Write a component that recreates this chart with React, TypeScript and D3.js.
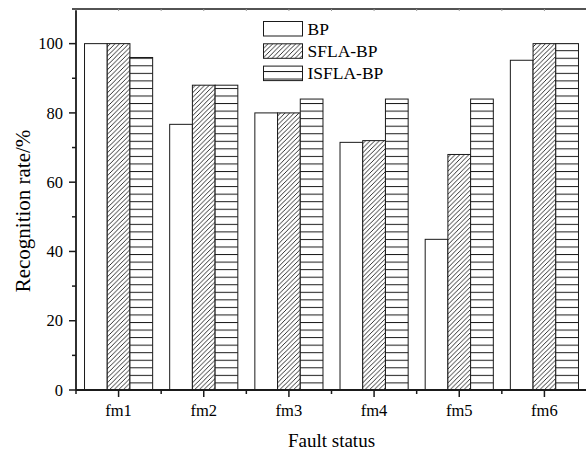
import React from "react";
import * as d3 from "d3";

const categories = ["fm1", "fm2", "fm3", "fm4", "fm5", "fm6"];
const seriesNames = ["BP", "SFLA-BP", "ISFLA-BP"];
const bpValues = [100, 76.7, 80, 71.5, 43.5, 95.2];
const sflaValues = [100, 88, 80, 72, 68, 100];
const isflaValues = [96, 88, 84, 84, 84, 100];
const yMajorTicks = [0, 20, 40, 60, 80, 100];
const yMinorTicks = [10, 30, 50, 70, 90];

const WIDTH = 586;
const HEIGHT = 450;
const left = 76;
const right = 587;
const top = 9;
const bottom = 390;
const FONT = "'Liberation Serif', 'Times New Roman', serif";
const INK = "#1a1a1a";

const fills = ["#ffffff", "url(#hatchDiag)", "url(#hatchHoriz)"];

export default function App() {
  const x = d3.scaleBand<string>().domain(categories).range([left, right]).paddingInner(0).paddingOuter(0);
  const inner = d3
    .scaleBand<string>()
    .domain(seriesNames)
    .range([x.bandwidth() * 0.1, x.bandwidth() * 0.9]);
  const y = d3.scaleLinear().domain([0, 110]).range([bottom, top]);

  const series = [bpValues, sflaValues, isflaValues];
  const bandEdges = d3.range(categories.length + 1).map((i) => left + i * x.step());

  const legendX = 263.5;
  const legendY = 21.5;
  const legendStep = 22.3;
  const boxW = 39;
  const boxH = 14.5;

  return (
    <svg width={WIDTH} height={HEIGHT} style={{ display: "block", position: "absolute", left: 0, top: 0 }}>
      <defs>
        <pattern id="hatchDiag" patternUnits="userSpaceOnUse" width={4.6} height={4.6}>
          <rect width={4.6} height={4.6} fill="#fff" />
          <path d="M-1,1 L1,-1 M0,4.6 L4.6,0 M3.6,5.6 L5.6,3.6" stroke={INK} strokeWidth={0.9} />
        </pattern>
        <pattern id="hatchHoriz" patternUnits="userSpaceOnUse" width={10} height={7.55} y={4.9}>
          <rect width={10} height={7.55} fill="#fff" />
          <line x1={0} x2={10} y1={0.5} y2={0.5} stroke={INK} strokeWidth={1} />
        </pattern>
      </defs>

      <rect width={WIDTH} height={HEIGHT} fill="#fff" />

      {/* bars */}
      {categories.map((c, ci) => (
        <g key={c} transform={`translate(${x(c)},0)`}>
          {series.map((vals, si) => (
            <rect
              key={si}
              x={inner(seriesNames[si])}
              y={y(vals[ci])}
              width={inner.bandwidth()}
              height={bottom - y(vals[ci])}
              fill={fills[si]}
              stroke={INK}
              strokeWidth={1}
            />
          ))}
        </g>
      ))}

      {/* frame */}
      <line x1={left - 4} x2={right} y1={top} y2={top} stroke={INK} strokeWidth={1.3} />
      <line x1={right} x2={right} y1={top} y2={bottom} stroke={INK} strokeWidth={1.3} />
      <line x1={left} x2={left} y1={top} y2={bottom} stroke={INK} strokeWidth={1.8} />
      <line x1={left} x2={right} y1={bottom} y2={bottom} stroke={INK} strokeWidth={1.8} />

      {/* top axis faint ticks */}
      {categories.map((c) => (
        <line key={"tt" + c} x1={x(c)! + x.bandwidth() / 2} x2={x(c)! + x.bandwidth() / 2} y1={top} y2={top + 2} stroke="#999" strokeWidth={1} />
      ))}
      {bandEdges.map((e, i) => (
        <line key={"te" + i} x1={e} x2={e} y1={top} y2={top + 2} stroke="#999" strokeWidth={1} />
      ))}

      {/* y axis ticks */}
      {yMajorTicks.map((t) => (
        <g key={"y" + t}>
          <line x1={left - 7} x2={left} y1={y(t)} y2={y(t)} stroke={INK} strokeWidth={1.5} />
          <text x={63} y={y(t)} dy="0.34em" textAnchor="end" fontFamily={FONT} fontSize={16.5} fill="#000">
            {t}
          </text>
        </g>
      ))}
      {yMinorTicks.map((t) => (
        <line key={"ym" + t} x1={left - 4} x2={left} y1={y(t)} y2={y(t)} stroke={INK} strokeWidth={1.5} />
      ))}

      {/* x axis ticks */}
      {categories.map((c) => {
        const cx = x(c)! + x.bandwidth() / 2;
        return (
          <g key={"x" + c}>
            <line x1={cx} x2={cx} y1={bottom} y2={bottom + 7} stroke={INK} strokeWidth={1.5} />
            <text x={cx} y={416} textAnchor="middle" fontFamily={FONT} fontSize={16.5} fill="#000">
              {c}
            </text>
          </g>
        );
      })}
      {bandEdges.map((e, i) => (
        <line key={"xm" + i} x1={e} x2={e} y1={bottom} y2={bottom + 4} stroke={INK} strokeWidth={1.5} />
      ))}

      {/* axis titles */}
      <text x={(left + right) / 2} y={447} textAnchor="middle" fontFamily={FONT} fontSize={19} fill="#000">
        Fault status
      </text>
      <text
        transform={`translate(29.5,211) rotate(-90)`}
        textAnchor="middle"
        fontFamily={FONT}
        fontSize={21}
        fill="#000"
      >
        Recognition rate/%
      </text>

      {/* legend */}
      {seriesNames.map((name, i) => (
        <g key={name} transform={`translate(${legendX},${legendY + i * legendStep})`}>
          <rect width={boxW} height={boxH} fill={fills[i]} stroke={INK} strokeWidth={1} />
          <text x={boxW + 5} y={boxH / 2} dy="0.35em" fontFamily={FONT} fontSize={17.5} fill="#000">
            {name}
          </text>
        </g>
      ))}
    </svg>
  );
}
